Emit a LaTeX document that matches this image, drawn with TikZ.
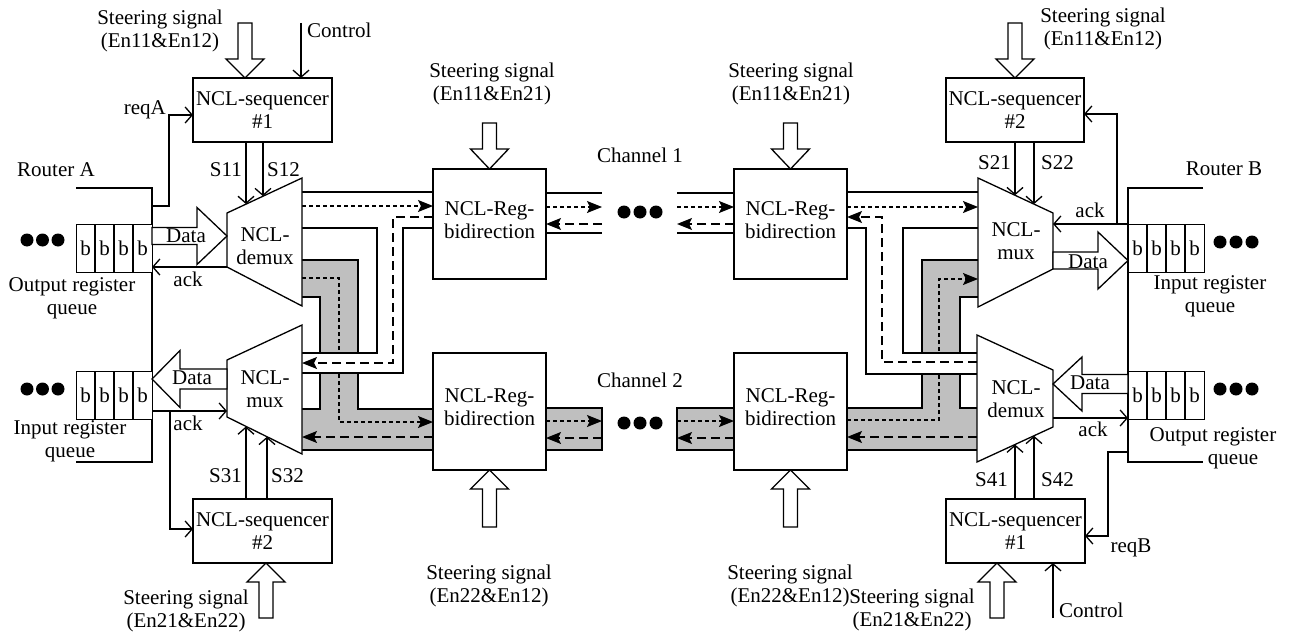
\documentclass[tikz,border=0pt]{standalone}
\usepackage{fontspec}
\setmainfont{Liberation Serif}
\usetikzlibrary{arrows.meta}
\newcommand\dfont{\fontsize{21}{23}\selectfont}
% vertical hollow arrow: x, tip y, head-base y, tail y
\newcommand\vhollow[4]{\draw[hollow] (#1-7,#4) -- (#1-7,#3) -- (#1-19,#3) -- (#1,#2) -- (#1+19,#3) -- (#1+7,#3) -- (#1+7,#4) -- cycle;}
% horizontal hollow arrow: y, tip x, head-base x, tail x, shaft half, head half
\newcommand\hhollow[6]{\draw[hollow] (#4,#1-#5) -- (#3,#1-#5) -- (#3,#1-#6) -- (#2,#1) -- (#3,#1+#6) -- (#3,#1+#5) -- (#4,#1+#5) -- cycle;}
% register queue: name, left x, top y
\newcommand\regqueue[3]{%
  \node[box, minimum width=76pt, minimum height=48pt, anchor=north west] (#1) at (#2,#3) {};
  \foreach \i in {1,2,3}{\draw[ln] (#2+19*\i,#3) -- (#2+19*\i,#3+48);}
  \foreach \i in {0,1,2,3}{\node[lbl] at (#2+9.5+19*\i,#3+24) {b};}}
% three dots: first centre x, y, spacing
\newcommand\threedots[3]{\foreach \i in {0,1,2}{\fill (#1+#3*\i,#2) circle (6.5pt);}}
\tikzset{
  ln/.style={line width=1.3pt},
  box/.style={draw, line width=1.3pt, fill=white, inner sep=0pt, align=center, font=\dfont},
  hollow/.style={draw, line width=1.3pt, fill=white, line join=miter},
  lbl/.style={inner sep=0pt, align=center, font=\dfont},
  sig/.style={line width=1.3pt, -{Straight Barb[length=7pt,width=16pt]}},
  fda/.style={line width=1.3pt, dash pattern=on 4pt off 3pt, -{Stealth[length=15pt,width=12pt,inset=3pt]}},
  lda/.style={line width=1.3pt, dash pattern=on 9pt off 5pt, -{Stealth[length=15pt,width=12pt,inset=3pt]}},
  band/.style={fill=black!25},
}
\begin{document}
\begin{tikzpicture}[x=1pt,y=-1pt]
\useasboundingbox (0,0) rectangle (1290,634);

% ---------- grey bands (channel 2 paths)
\fill[band] (302,260) -- (358,260) -- (358,409) -- (433,409) -- (433,450) -- (302,450) -- (302,409) -- (320,409) -- (320,297) -- (302,297) -- cycle;
\draw[ln] (302,260) -- (358,260) -- (358,409) -- (433,409);
\draw[ln] (302,297) -- (320,297) -- (320,409) -- (302,409);
\draw[ln] (302,450) -- (433,450);
\draw[fda] (302,278) -- (339,278) -- (339,422) -- (433,422);

\fill[band] (978,260) -- (922,260) -- (922,408) -- (847,408) -- (847,450) -- (977,450) -- (977,408) -- (960,408) -- (960,297) -- (978,297) -- cycle;
\draw[ln] (978,260) -- (922,260) -- (922,408) -- (847,408);
\draw[ln] (978,297) -- (960,297) -- (960,408) -- (977,408);
\draw[ln] (847,450) -- (977,450);
\draw[fda] (847,420) -- (939,420) -- (939,279) -- (978,279);

\draw[ln, band] (546,408) rectangle (602,450);
\draw[ln, band] (677,408) rectangle (734,450);
\draw[fda] (546,421) -- (602,421);
\draw[lda] (602,438) -- (546,438);
\draw[fda] (677,421) -- (734,421);
\draw[lda] (734,438) -- (677,438);
\threedots{624}{423}{16}

% white gaps where channel 1 crosses
\fill[white] (317,354) rectangle (361,372);
\fill[white] (919,354) rectangle (963,373);

% ---------- channel 1 paths
\draw[ln] (302,192) -- (433,192);
\draw[fda] (302,206) -- (433,206);
\draw[lda] (433,217) -- (393,217) -- (393,363) -- (302,363);
\draw[ln] (433,228) -- (403,228) -- (403,373) -- (302,373);
\draw[ln] (302,228) -- (377,228) -- (377,353) -- (302,353);
\draw[lda] (433,437) -- (302,437);

\draw[ln] (847,192) -- (978,192);
\draw[fda] (847,207) -- (978,207);
\draw[lda] (977,362) -- (882,362) -- (882,217) -- (847,217);
\draw[ln] (847,228) -- (866,228) -- (866,374) -- (977,374);
\draw[ln] (978,228) -- (903,228) -- (903,353) -- (977,353);
\draw[lda] (977,437) -- (847,437);

\draw[ln] (546,193) -- (602,193);
\draw[ln] (546,233) -- (602,233);
\draw[fda] (546,207) -- (602,207);
\draw[lda] (602,224) -- (546,224);
\draw[ln] (677,193) -- (734,193);
\draw[ln] (677,233) -- (734,233);
\draw[fda] (677,207) -- (734,207);
\draw[lda] (734,224) -- (677,224);
\threedots{624}{212}{16}

% ---------- mux / demux
\draw[hollow] (227,213) -- (302,178) -- (302,306) -- (227,267) -- cycle;
\node[lbl] (demuxA) at (265,246) {NCL-\\demux};
\draw[hollow] (227,360) -- (302,325) -- (302,454) -- (227,417) -- cycle;
\node[lbl] (muxA) at (265,389) {NCL-\\mux};
\draw[hollow] (978,178) -- (1053,213) -- (1053,269) -- (978,307) -- cycle;
\node[lbl] (muxB) at (1016,241) {NCL-\\mux};
\draw[hollow] (977,335) -- (1053,370) -- (1053,427) -- (977,462) -- cycle;
\node[lbl] (demuxB) at (1016,399) {NCL-\\demux};

% ---------- registers
\node[box, minimum width=113pt, minimum height=110pt] (reg1) at (489.5,224) {};
\node[box, minimum width=113pt, minimum height=117pt] (reg2) at (489.5,411.5) {};
\node[box, minimum width=113pt, minimum height=110pt] (reg3) at (790.5,224) {};
\node[box, minimum width=113pt, minimum height=117pt] (reg4) at (790.5,411.5) {};
\node[lbl] (reg1t) at (489.5,220) {NCL-Reg-\\bidirection};
\node[lbl] (reg2t) at (489.5,407) {NCL-Reg-\\bidirection};
\node[lbl] (reg3t) at (790.5,220) {NCL-Reg-\\bidirection};
\node[lbl] (reg4t) at (790.5,407) {NCL-Reg-\\bidirection};
\node[lbl] (ch1) at (640,155) {Channel 1};
\node[lbl] (ch2) at (640,380) {Channel 2};

% ---------- sequencers
\node[box, minimum width=139pt, minimum height=64pt] (seqA1) at (262.5,110) {NCL-sequencer\\\#1};
\node[box, minimum width=139pt, minimum height=64pt] (seqA2) at (262.5,531) {NCL-sequencer\\\#2};
\node[box, minimum width=138pt, minimum height=64pt] (seqB2) at (1015,110) {NCL-sequencer\\\#2};
\node[box, minimum width=139pt, minimum height=64pt] (seqB1) at (1015.5,531) {NCL-sequencer\\\#1};

% ---------- steering hollow arrows
\vhollow{245}{78}{59}{23}
\vhollow{266}{563}{582}{618}
\vhollow{489.5}{169}{149}{123}
\vhollow{489.5}{470}{489}{527}
\vhollow{790.5}{169}{149}{123}
\vhollow{790.5}{470}{489}{527}
\vhollow{1015}{78}{59}{23}
\vhollow{997}{563}{582}{618}

\node[lbl] (stA1) at (160,31) {Steering signal\\(En11\&En12)};
\node[lbl] (stA2) at (186,611) {Steering signal\\(En21\&En22)};
\node[lbl] (st1) at (492,84) {Steering signal\\(En11\&En21)};
\node[lbl] (st3) at (791,84) {Steering signal\\(En11\&En21)};
\node[lbl] (st2) at (489,586) {Steering signal\\(En22\&En12)};
\node[lbl] (st4) at (790,586) {Steering signal\\(En22\&En12)};
\node[lbl] (stB2) at (1103,29) {Steering signal\\(En11\&En12)};
\node[lbl] (stB1) at (912,610) {Steering signal\\(En21\&En22)};

% ---------- router A
\draw[ln] (76,188) -- (152,188) -- (152,462) -- (76,462);
\node[lbl] (rA) at (56,170) {Router A};
\regqueue{qAo}{76}{224}
\regqueue{qAi}{76}{371}
\threedots{27}{240}{15.5}
\threedots{27}{389}{15.5}
\node[lbl] (qAol) at (72,298) {Output register\\queue};
\node[lbl] (qAil) at (70,441) {Input register\\queue};

\hhollow{236}{227}{197}{152}{8.5}{28.5}
\node[lbl] at (186,236) {Data};
\draw[sig] (227,267) -- (152,267);
\node[lbl] at (188,279) {ack};
\hhollow{379}{152}{180}{227}{10}{28.5}
\node[lbl] at (192,378) {Data};
\draw[sig] (152,411) -- (227,411);
\node[lbl] at (188,423) {ack};
\draw[sig] (170,411) -- (170,529) -- (193,529);

\draw[sig] (152,206) -- (169,206) -- (169,115) -- (193,115);
\node[lbl, anchor=east] (reqA) at (166,110) {reqA};
\draw[sig] (301,23) -- (301,78);
\node[lbl, anchor=west] (ctlA) at (307,30) {Control};

\draw[sig] (246,142) -- (246,204.1);
\draw[sig] (263,142) -- (263,196.2);
\node[lbl, anchor=east] at (242,170) {S11};
\node[lbl, anchor=west] at (267,170) {S12};
\draw[sig] (246,499) -- (246,426.4);
\draw[sig] (267,499) -- (267,436.7);
\node[lbl, anchor=east] at (242,476) {S31};
\node[lbl, anchor=west] at (271,476) {S32};

% ---------- router B
\draw[ln] (1203,188) -- (1128,188) -- (1128,462) -- (1203,462);
\node[lbl] (rB) at (1224,169) {Router B};
\regqueue{qBi}{1128}{224}
\regqueue{qBo}{1128}{371}
\threedots{1220}{242}{16}
\threedots{1220}{389}{16}
\node[lbl] (qBil) at (1210,296) {Input register\\queue};
\node[lbl] (qBol) at (1213,448) {Output register\\\hspace*{40pt}queue};

\hhollow{260.5}{1128}{1098}{1053}{8.5}{28.5}
\node[lbl] at (1088,262) {Data};
\draw[sig] (1128,224) -- (1053,224);
\draw[sig] (1117,224) -- (1117,114) -- (1084,114);
\node[lbl] at (1090,210) {ack};
\hhollow{384}{1053}{1082}{1128}{9.5}{27}
\node[lbl] at (1090,383) {Data};
\draw[sig] (1053,418) -- (1128,418);
\node[lbl] at (1093,429) {ack};
\draw[sig] (1128,452) -- (1108,452) -- (1108,536) -- (1085,536);
\node[lbl] (reqB) at (1131,548) {reqB};
\draw[sig] (1053,618) -- (1053,563);
\node[lbl, anchor=west] (ctlB) at (1059,610) {Control};

\draw[sig] (1015,142) -- (1015,195.3);
\draw[sig] (1034,142) -- (1034,204.1);
\node[lbl, anchor=east] at (1011,163) {S21};
\node[lbl, anchor=west] at (1041,163) {S22};
\draw[sig] (1015,499) -- (1015,444.5);
\draw[sig] (1034,499) -- (1034,435.8);
\node[lbl, anchor=east] at (1008,480) {S41};
\node[lbl, anchor=west] at (1041,480) {S42};
\end{tikzpicture}
\end{document}
